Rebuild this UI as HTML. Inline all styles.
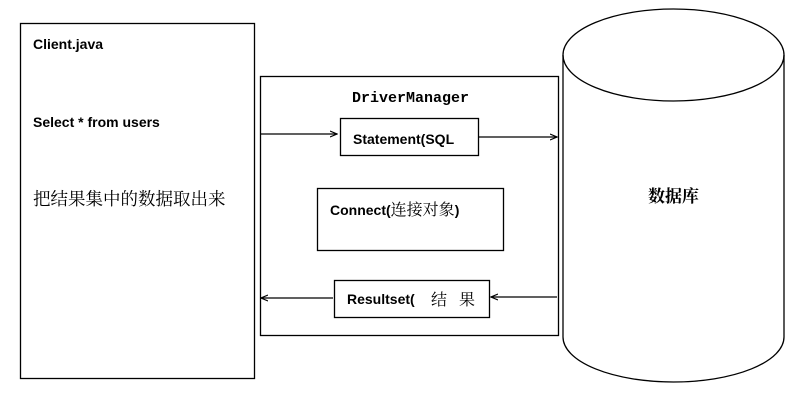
<!DOCTYPE html>
<html><head><meta charset="utf-8"><style>
html,body{margin:0;padding:0;background:#fff;width:805px;height:404px;overflow:hidden}
svg{display:block}
.b{font-family:"Liberation Sans","Noto Sans CJK SC",sans-serif;font-weight:bold;font-size:14px;fill:#000}
.c{font-family:"Liberation Serif","Noto Serif CJK SC",serif;fill:#000}
</style></head><body>
<svg width="805" height="404" viewBox="0 0 805 404" xmlns="http://www.w3.org/2000/svg">
<defs><marker id="a" markerWidth="8" markerHeight="8" refX="7" refY="4" orient="auto" markerUnits="userSpaceOnUse"><path d="M0,1 L7,4 L0,7" fill="none" stroke="#000" stroke-width="1.2"/></marker></defs>
<g fill="none" stroke="#000" stroke-width="1.3">
<rect x="20.5" y="23.5" width="234" height="355"/>
<rect x="260.5" y="76.5" width="298" height="259"/>
<rect x="340.5" y="118.5" width="138" height="37"/>
<rect x="317.5" y="188.5" width="186" height="62"/>
<rect x="334.5" y="280.5" width="155" height="37"/>
<path d="M563,55 L563,337 A110.5,45 0 0 0 784,337 L784,55"/>
<ellipse cx="673.5" cy="55" rx="110.5" ry="46"/>
<line x1="260" y1="134" x2="337" y2="134" marker-end="url(#a)"/>
<line x1="478" y1="137" x2="557" y2="137" marker-end="url(#a)"/>
<line x1="557" y1="297" x2="491" y2="297" marker-end="url(#a)"/>
<line x1="333" y1="298" x2="261" y2="298" marker-end="url(#a)"/>
</g>
<text class="b" x="33" y="49">Client.java</text>
<text class="b" x="33" y="127">Select * from users</text>
<text class="c" x="33" y="205" font-size="17.5">把结果集中的数据取出来</text>
<text x="352" y="102" font-family="Liberation Mono,monospace" font-size="15" font-weight="bold" fill="#000">DriverManager</text>
<text class="b" x="353" y="144">Statement(SQL</text>
<text class="b" x="330" y="215">Connect(<tspan font-family="Noto Serif CJK SC,serif" font-weight="normal" font-size="16">连接对象</tspan>)</text>
<text class="b" x="347" y="304">Resultset(</text>
<text class="c" x="431" y="305" font-size="16">结</text>
<text class="c" x="459" y="305" font-size="16">果</text>
<text class="c" x="648" y="202" font-size="17" font-weight="bold">数据库</text>
</svg>
</body></html>
